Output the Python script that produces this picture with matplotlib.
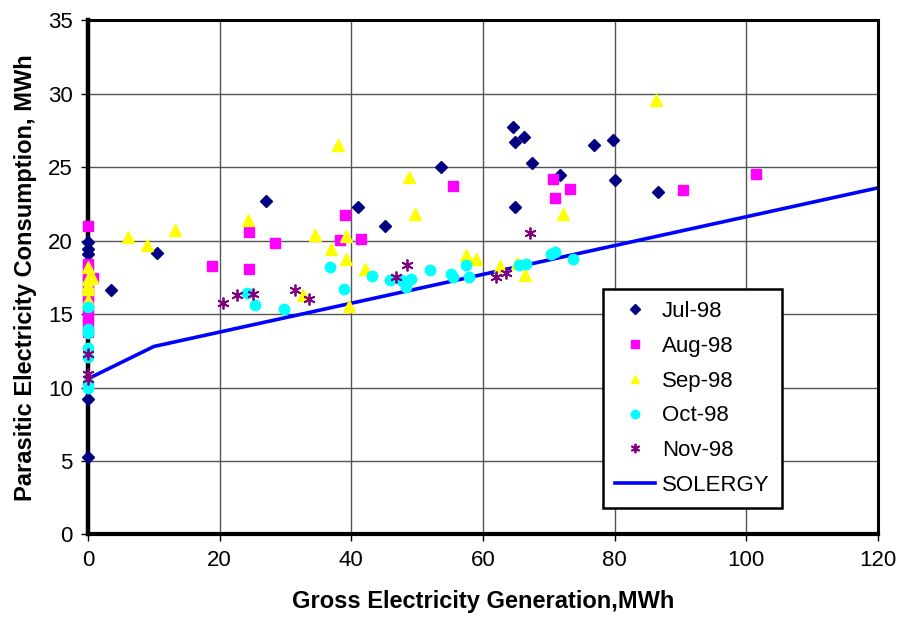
import matplotlib.pyplot as plt

plt.rcParams['font.family'] = ['Liberation Sans', 'DejaVu Sans']

# monthly measurements (gross generation, parasitic consumption), MWh
jul_x = [0, 0, 0, 0, 0, 3.45, 10.5, 27.0, 41.0, 45.1, 53.6, 64.6, 64.8, 66.3, 67.5,
         71.7, 64.8, 76.8, 79.8, 80.0, 86.6]
jul_y = [19.9, 19.45, 19.1, 9.2, 5.3, 16.65, 19.15, 22.7, 22.3, 21.0, 25.05, 27.75,
         26.7, 27.05, 25.3, 24.5, 22.3, 26.55, 26.85, 24.15, 23.35]

aug_x = [0, 0, 0, 0, 0, 0, 0, 0, 0, 0, 0, 0, 0.8, 18.9, 24.5, 24.5, 28.4, 39.1, 38.2,
         41.5, 55.5, 70.6, 70.9, 73.2, 90.4, 101.5]
aug_y = [21.0, 18.4, 18.0, 17.6, 17.2, 16.8, 16.3, 15.8, 15.3, 14.8, 14.3, 13.8, 17.45,
         18.3, 20.6, 18.1, 19.85, 21.75, 20.05, 20.15, 23.7, 24.2, 22.9, 23.5, 23.45, 24.55]

sep_x = [0, 0, 0, 0, 0, 0.55, 6.0, 8.9, 13.2, 24.35, 34.5, 36.9, 39.2, 39.2, 42.1,
         32.7, 39.6, 37.9, 48.7, 49.6, 57.4, 59.0, 62.6, 65.2, 66.4, 72.1, 86.3]
sep_y = [18.2, 17.4, 17.0, 16.7, 15.95, 17.5, 20.25, 19.7, 20.7, 21.4, 20.4, 19.45,
         20.35, 18.75, 18.05, 16.3, 15.55, 26.5, 24.35, 21.8, 19.05, 18.75, 18.3, 18.45,
         17.7, 21.8, 29.55]

oct_x = [0, 0, 0, 0, 0, 0, 0, 24.1, 25.4, 29.8, 36.7, 38.9, 43.1, 45.9, 47.6, 48.35,
         49.1, 51.95, 55.2, 55.5, 57.4, 57.8, 65.5, 66.6, 70.4, 70.9, 73.7]
oct_y = [15.5, 14.0, 13.7, 12.7, 12.1, 10.3, 10.0, 16.45, 15.65, 15.35, 18.2, 16.7,
         17.6, 17.35, 17.35, 16.85, 17.4, 18.0, 17.75, 17.5, 18.35, 17.5, 18.35, 18.4,
         19.1, 19.2, 18.75]

nov_x = [0, 0, 0, 20.5, 22.7, 25.1, 31.5, 33.6, 46.8, 48.5, 62.0, 63.5, 67.2]
nov_y = [12.3, 10.9, 10.6, 15.75, 16.3, 16.35, 16.65, 16.05, 17.55, 18.35, 17.55,
         17.8, 20.55]

# simulated parasitic load curve
solergy_x = [0, 10, 120]
solergy_y = [10.6, 12.8, 23.6]

fig = plt.figure(figsize=(9.02, 6.2), dpi=100)
ax = fig.add_axes([0.0976, 0.138, 0.8758, 0.829])

ax.plot(solergy_x, solergy_y, color='#0000FF', lw=2.6, label='SOLERGY', zorder=2)

mk = dict(ls='none', zorder=4, clip_on=False)
ax.plot(jul_x, jul_y, 'D', color='#000080', ms=6, label='Jul-98', **mk)
ax.plot(aug_x, aug_y, 's', color='#FF00FF', ms=7, label='Aug-98', **mk)
ax.plot(sep_x, sep_y, '^', color='#FFFF00', ms=8, label='Sep-98', **mk)
ax.plot(oct_x, oct_y, 'o', color='#00FFFF', ms=7.5, label='Oct-98', **mk)
ax.plot(nov_x, nov_y, marker=(6, 2, 0), color='#800080', ms=8.5, mew=1.3,
        label='Nov-98', **mk)

ax.set_xlim(0, 120)
ax.set_ylim(0, 35)
ax.set_xticks(range(0, 121, 20))
ax.set_yticks(range(0, 36, 5))
ax.grid(True, color='#555555', lw=1)
ax.set_axisbelow(True)
ax.tick_params(direction='out', length=5, width=1, labelsize=16, pad=6)

for s in ax.spines.values():
    s.set_linewidth(2.2)
    s.set_color('black')
ax.spines['left'].set_linewidth(3.2)
ax.spines['bottom'].set_linewidth(3)
ax.spines['left'].set_zorder(3)

ax.set_xlabel('Gross Electricity Generation,MWh', fontsize=17, fontweight='bold', labelpad=14)
ax.set_ylabel('Parasitic Electricity Consumption, MWh', fontsize=17, fontweight='bold',
              labelpad=8)

handles, labels = ax.get_legend_handles_labels()
order = [1, 2, 3, 4, 5, 0]
leg = ax.legend([handles[i] for i in order], [labels[i] for i in order],
                loc='lower left', bbox_to_anchor=(0.652, 0.051), fontsize=16,
                frameon=True, fancybox=False, edgecolor='black', framealpha=1,
                labelspacing=0.62, handlelength=1.8, borderpad=0.55, handletextpad=0.3,
                borderaxespad=0, markerscale=0.8)
leg.get_frame().set_linewidth(1.8)
leg.set_zorder(5)

fig.savefig('out.png', dpi=100)
